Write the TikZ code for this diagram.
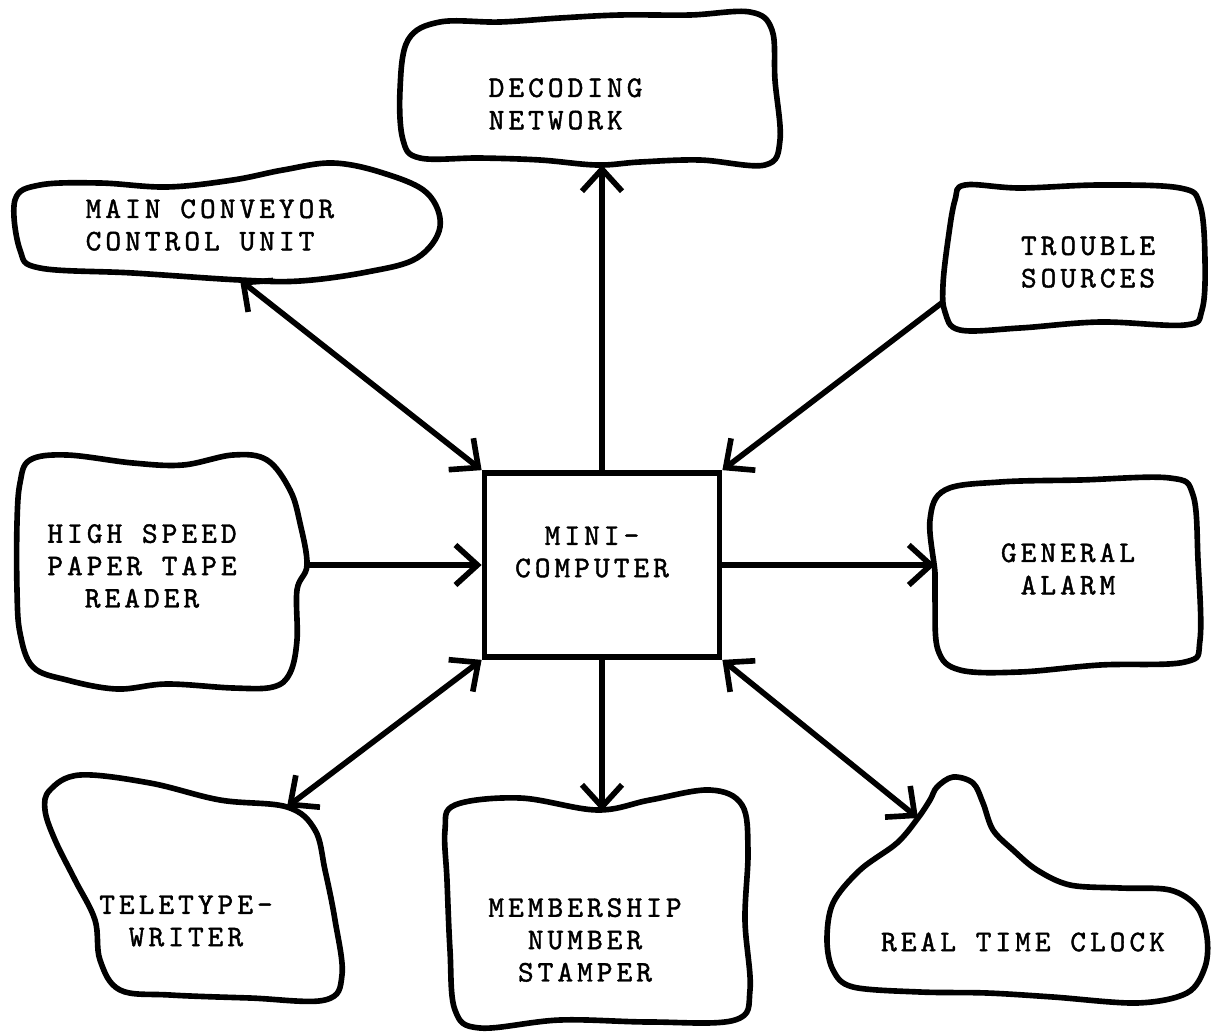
\documentclass[tikz,border=0pt]{standalone}
\usepackage{fontspec}
\setmonofont[Extension=.otf,LetterSpace=13.5,FakeBold=1.4]{lmmono10-regular}
\usetikzlibrary{arrows.meta}

\begin{document}
\begin{tikzpicture}[x=0.01cm,y=-0.01cm,>={Straight Barb[length=2.2mm,width=4mm]},
    blob/.style={line width=1.6pt,line join=round},
    lbl/.style={font=\ttfamily\fontsize{8.5}{9.2}\selectfont,align=center,inner sep=0pt},
    link/.style={line width=1.6pt}]
    \useasboundingbox (0,0) rectangle (1214,1036);
    % outlines
    \draw[blob] plot[smooth cycle,tension=0.6] coordinates {(408,40) (440,22) (500,22) (560,18) (620,15) (690,15) (750,12) (772,30) (775,80) (780,140) (765,165) (700,160) (640,162) (597,165) (540,160) (480,158) (420,158) (403,140) (400,90)};
    \draw[blob] plot[smooth cycle,tension=0.6] coordinates {(15,200) (20,250) (40,268) (133,273) (240,280) (300,281) (367,272) (417,258) (440,227) (427,193) (383,173) (333,163) (283,170) (233,180) (167,187) (100,183) (40,185)};
    \draw[blob] plot[smooth cycle,tension=0.6] coordinates {(965,185) (1020,188) (1100,185) (1180,188) (1200,205) (1205,260) (1202,310) (1185,325) (1100,322) (1020,328) (960,330) (945,312) (943,285) (948,240) (955,200)};
    \draw[blob] plot[smooth cycle,tension=0.6] coordinates {(30,460) (67,455) (133,463) (183,465) (233,455) (267,460) (290,490) (300,523) (307,565) (297,590) (297,640) (290,673) (273,687) (233,688) (167,684) (117,689) (67,680) (33,667) (20,633) (17,590) (17,523) (20,483)};
    \draw[blob] plot[smooth cycle,tension=0.6] coordinates {(945,490) (1000,482) (1080,480) (1170,478) (1193,495) (1198,560) (1200,640) (1185,662) (1100,665) (1020,672) (960,670) (938,650) (935,600) (935,573) (930,520)};
    \draw[blob] plot[smooth cycle,tension=0.6] coordinates {(50,790) (80,775) (150,783) (220,800) (287,807) (315,830) (325,870) (335,920) (342,975) (325,1000) (250,998) (170,995) (120,990) (100,960) (95,920) (75,880) (55,840) (45,810)};
    \draw[blob] plot[smooth cycle,tension=0.6] coordinates {(455,805) (520,798) (597,810) (650,800) (710,790) (742,805) (748,850) (745,920) (750,990) (735,1020) (650,1022) (560,1020) (480,1028) (455,1010) (450,950) (447,880) (445,830)};
    \draw[blob] plot[smooth cycle,tension=0.55] coordinates {(937,787) (953,777) (973,783) (983,803) (993,830) (1013,850) (1037,870) (1070,885) (1120,888) (1170,890) (1197,907) (1207,937) (1205,967) (1187,993) (1137,1003) (1053,997) (987,993) (920,992) (853,987) (833,970) (827,940) (833,903) (860,870) (897,843) (918,818) (930,800)};
    % texts
    \node[lbl,align=left,anchor=west] (decoding) at (488,104) {DECODING\\NETWORK};
    \node[lbl,align=left,anchor=west] (conveyor) at (85,225) {MAIN CONVEYOR\\CONTROL UNIT};
    \node[lbl] (trouble) at (1088,262) {TROUBLE\\SOURCES};
    \node[lbl] (reader) at (142,566) {HIGH SPEED\\PAPER TAPE\\READER};
    \node[lbl] (alarm) at (1068,569) {GENERAL\\ALARM};
    \node[lbl] (teletype) at (186,921) {TELETYPE-\\WRITER};
    \node[lbl] (stamper) at (585,940) {MEMBERSHIP\\NUMBER\\STAMPER};
    \node[lbl] (clock) at (1023,942) {REAL TIME CLOCK};
    \node[draw,line width=1.6pt,minimum width=2.35cm,minimum height=1.84cm,inner sep=0pt] (mc) at (602,565) {};
    \node[lbl] (mctext) at (592,552) {MINI-\\COMPUTER};
    % ends on the outlines
    \coordinate (convE) at (240,280);
    \coordinate (decE) at (602,165);
    \coordinate (troubE) at (943,302);
    \coordinate (readE) at (307,565);
    \coordinate (alarmE) at (935,565);
    \coordinate (teleE) at (287,807);
    \coordinate (stampE) at (602,811);
    \coordinate (clockE) at (918,818);
    % connectors
    \draw[link,<->] (mc.north west) -- (convE);
    \draw[link,->] (mc.north) -- (decE);
    \draw[link,->] (troubE) -- (mc.north east);
    \draw[link,->] (readE) -- (mc.west);
    \draw[link,->] (mc.east) -- (alarmE);
    \draw[link,<->] (mc.south west) -- (teleE);
    \draw[link,->] (mc.south) -- (stampE);
    \draw[link,<->] (mc.south east) -- (clockE);
\end{tikzpicture}
\end{document}
